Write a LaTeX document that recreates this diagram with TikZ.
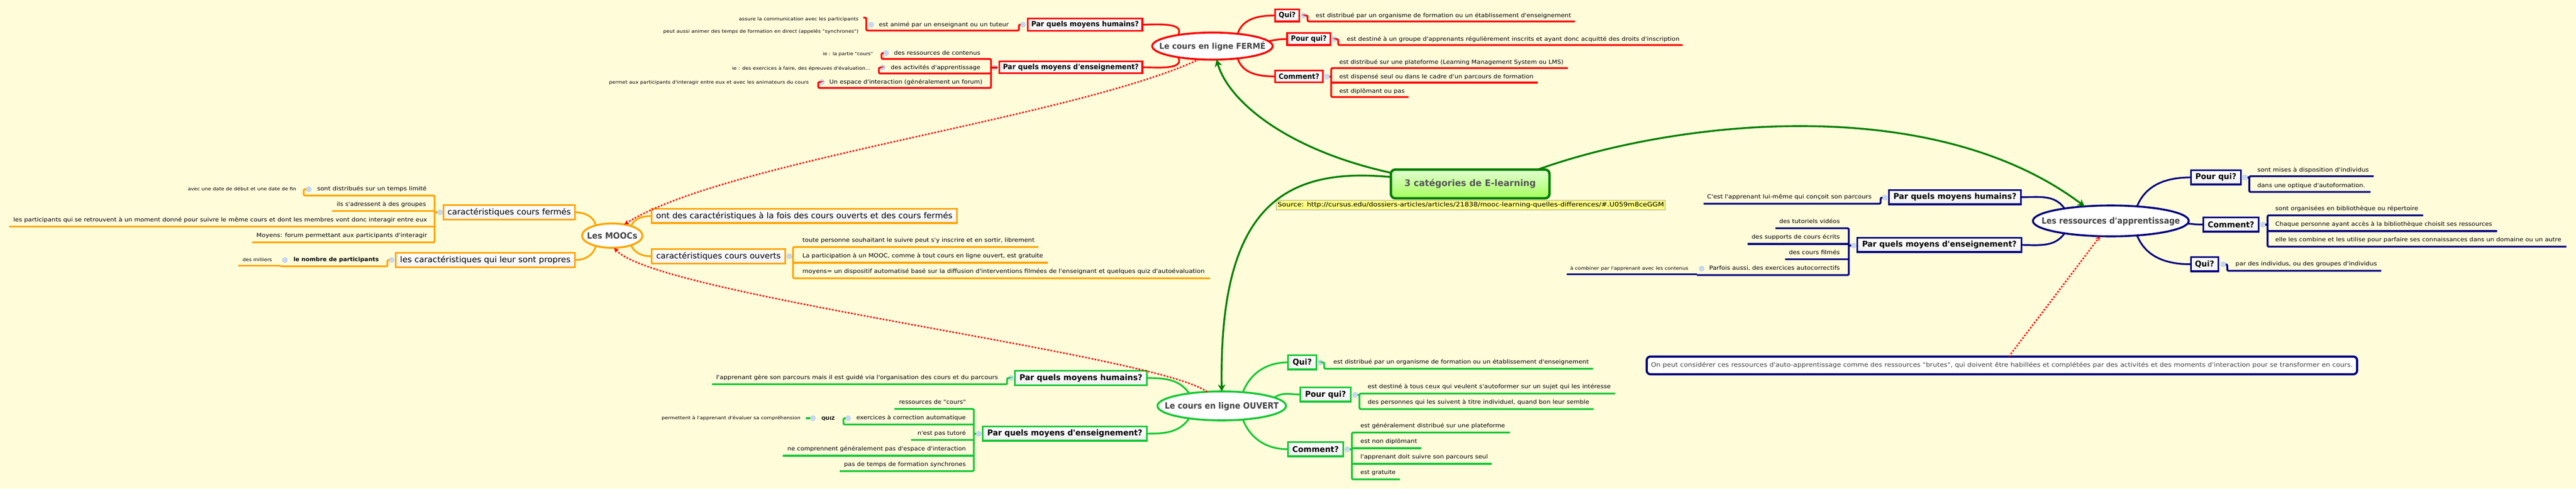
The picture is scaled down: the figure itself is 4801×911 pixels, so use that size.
\documentclass[tikz,border=0pt]{standalone}
\usepackage{fontspec}
\usepackage{graphicx}
\usetikzlibrary{shapes.geometric,arrows.meta,calc}
\newfontfamily\mf{DejaVu Sans}
\definecolor{bgc}{HTML}{FFFCDA}
\definecolor{cred}{HTML}{FF0000}
\definecolor{cgrn}{HTML}{12C832}
\definecolor{cnav}{HTML}{000080}
\definecolor{corg}{HTML}{FFA500}
\definecolor{cdg}{HTML}{008000}
\definecolor{cinkk}{HTML}{444444}
\definecolor{ctop}{HTML}{E4FFD4}
\definecolor{cbot}{HTML}{A4FF5C}
\definecolor{cctxt}{HTML}{555555}
\definecolor{yl}{HTML}{FFFF80}
\definecolor{cbl}{HTML}{9DB6DE}
\definecolor{cbm}{HTML}{6C8CC4}
\definecolor{cbf}{HTML}{CADCF8}
\tikzset{
  tnode/.style={anchor=base,inner sep=0pt,outer sep=0pt,text=black},
  ln/.style={draw=#1,line width=3.4pt,line cap=butt},
  sp/.style={draw=#1,line width=3.4pt,rounded corners=2.5pt},
  bran/.style={draw=#1,line width=3.2pt},
  boxn/.style={draw=#1,line width=3.4pt,top color=white,bottom color=gray!11,inner sep=0pt,outer sep=0pt,text=black},
  ell/.style={ellipse,draw=#1,line width=3.6pt,fill=white,inner sep=0pt,outer sep=0pt,text=cinkk},
  coll/.style={circle,draw=cbl,line width=.5pt,fill=cbf,minimum size=9.5pt,inner sep=0pt,outer sep=0pt,text=cbm},
  linkg/.style={draw=cdg,line width=3.4pt,-{Stealth[length=13pt,width=14pt,inset=4pt]}},
  linkr/.style={draw=cred,line width=2.8pt,dash pattern=on 3pt off 3pt,-{Stealth[length=9pt,width=9pt,inset=3pt]}},
}
\newcommand\fw[3]{\resizebox{#1pt}{\height}{\fontsize{#2}{#2}\selectfont #3}}
% ellipse text: takes no room, so that the ellipse keeps its given size
\newcommand\et[3]{\makebox[0pt][c]{\raisebox{-.36\dimexpr#2pt\relax}[0pt][0pt]{\fw{#1}{#2}{\bfseries #3}}}}
% text node: name x1 x2 y size text
\newcommand\tx[6]{\pgfmathsetmacro\tw{#3-#2}\pgfmathsetmacro\tcx{(#2+#3)/2}\pgfmathsetmacro\tby{#4+0.36*#5}%
  \node[tnode] (#1) at (\tcx,\tby) {\fw{\tw}{#5}{#6}};}
% leaf with underline coordinates: name a b ly t1 t2 ty text
\newcommand\lf[8]{\tx{#1}{#5}{#6}{#7}{10.5}{#8}\coordinate (#1-a) at (#2,#4);\coordinate (#1-b) at (#3,#4);}
% box: name colour x1 y1 x2 y2 size textwidth text
\newcommand\bx[9]{\pgfmathsetmacro\bcx{(#3+#5)/2}\pgfmathsetmacro\bcy{(#4+#6)/2}\pgfmathsetmacro\bw{#5-#3-3.4}\pgfmathsetmacro\bh{#6-#4-3.4}%
  \node[boxn=#2,minimum width=\bw pt,minimum height=\bh pt] (#1) at (\bcx,\bcy) {\fw{#8}{#7}{#9}};}
\newcommand\cl[3]{\node[coll] (#1) at (#2,#3) {\fontsize{7}{7}\selectfont -};}
\begin{document}
\begin{tikzpicture}[x=1pt,y=-1pt,every node/.append style={font=\mf}]
\useasboundingbox (0,0) rectangle (4801,911);
\fill[bgc] (0,0) rectangle (4801,911);

% ---------------- central
\node[draw=cdg,line width=4.5pt,rounded corners=8pt,top color=ctop,bottom color=cbot,minimum width=295.5pt,minimum height=53.5pt,inner sep=0pt,outer sep=0pt,text=cctxt] (ctr) at (2740,343) {\fw{245}{17}{\bfseries 3 catégories de E-learning}};
\node[draw=gray!70,line width=1pt,fill=yl,minimum width=725.5pt,minimum height=18pt,inner sep=0pt,outer sep=0pt,text=black] (src) at (2741.2,382.3) {\fw{720}{11.5}{Source: http://cursus.edu/dossiers-articles/articles/21838/mooc-learning-quelles-differences/\#.U059m8ceGGM}};

% ---------------- ellipses
\node[ell=cred,minimum width=224.5pt,minimum height=50.5pt] (fe) at (2259.6,86) {\et{198}{15}{Le cours en ligne FERMÉ}};
\node[ell=cgrn,minimum width=239.5pt,minimum height=54pt] (ou) at (2277,757) {\et{212.5}{16}{Le cours en ligne OUVERT}};
\node[ell=cnav,minimum width=290.5pt,minimum height=57.5pt] (re) at (3934,412) {\et{258}{16}{Les ressources d'apprentissage}};
\node[ell=corg,minimum width=112.5pt,minimum height=45.5pt] (mo) at (1141,439.5) {\et{94}{16}{Les MOOCs}};

% ---------------- note
\node[draw=cnav,line width=4pt,rounded corners=7pt,fill=white,minimum width=1324pt,minimum height=33pt,inner sep=0pt,outer sep=0pt,text=cinkk] (nt) at (3731,681.5) {\fw{1308}{11.5}{On peut considérer ces ressources d'auto-apprentissage comme des ressources "brutes", qui doivent être habillées et complétées par des activités et des moments d'interaction pour se transformer en cours.}};

% ---------------- FERME: left
\bx{rh}{cred}{1914}{33}{2130.5}{59}{13.5}{200.4}{\bfseries Par quels moyens humains?}
\bx{re2}{cred}{1861}{113}{2130.5}{138}{13.5}{253}{\bfseries Par quels moyens d'enseignement?}
\cl{crh}{1906.6}{46}
\lf{ani}{1614.5}{1899}{57}{1638}{1880}{46}{est animé par un enseignant ou un tuteur}
\cl{cani}{1623.5}{46}
\tx{as}{1377}{1600}{35}{8.5}{assure la communication avec les participants}
\tx{pe}{1236}{1600}{58.5}{8.5}{peut aussi animer des temps de formation en direct (appelés "synchrones")}
\coordinate (as-s) at (1609,33);
\draw[sp=cred] (as-s) -- (ani-a |- as-s) -- (ani-a) -- (ani-b) |- (crh.west);
\cl{cre2}{1854}{126}
\lf{rc}{1643}{1847}{110}{1666}{1827}{99}{des ressources de contenus}
\cl{crc}{1651.5}{99}
\tx{rci}{1533.5}{1627}{100}{8.5}{ie : la partie "cours"}
\lf{ac}{1638}{1847}{137}{1660}{1827}{126}{des activités d'apprentissage}
\cl{cac}{1645}{126}
\tx{aci}{1364.5}{1622}{127}{8.5}{ie : des exercices à faire, des épreuves d'évaluation...}
\lf{es}{1525}{1847}{164}{1545.7}{1831}{153}{Un espace d'interaction (généralement un forum)}
\cl{ces}{1531.6}{153}
\tx{esi}{1135}{1507.4}{153}{8.5}{permet aux participants d'interagir entre eux et avec les animateurs du cours}
\draw[sp=cred] (crc.west) -| (rc-a) -- (rc-b) -- (es-b) -- (es-a) |- (ces.west);
\draw[sp=cred] (cac.west) -| (ac-a) -- (ac-b);
\draw[ln=cred] (cre2.east) -- (cre2.east -| rc-b);
\draw[bran=cred] (rh.east) to[out=0,in=62] (fe.162);
\draw[bran=cred] (re2.east) to[out=0,in=-62] (fe.198);

% ---------------- FERME: right
\bx{fq}{cred}{2375}{16}{2423}{41.7}{13.5}{31.6}{\bfseries Qui?}
\bx{fp}{cred}{2397.4}{60}{2481}{85.7}{13.5}{66.6}{\bfseries Pour qui?}
\bx{fc}{cred}{2375}{130}{2467}{155}{13.5}{75.8}{\bfseries Comment?}
\cl{cfq}{2430}{29}
\lf{fq1}{2437}{2935}{40}{2452}{2928}{29}{est distribué par un organisme de formation ou un établissement d'enseignement}
\draw[sp=cred] (cfq.east) -| (fq1-a) -- (fq1-b);
\cl{cfp}{2487}{73}
\lf{fp1}{2494}{3136}{84}{2510}{3130}{73}{est destiné à un groupe d'apprenants régulièrement inscrits et ayant donc acquitté des droits d'inscription}
\draw[sp=cred] (cfp.east) -| (fp1-a) -- (fp1-b);
\cl{cfc}{2473}{143}
\lf{fc1}{2481}{2922}{127}{2496}{2914}{116}{est distribué sur une plateforme (Learning Management System ou LMS)}
\lf{fc2}{2481}{2866}{154}{2496}{2858}{143}{est dispensé seul ou dans le cadre d'un parcours de formation}
\lf{fc3}{2481}{2625}{181}{2496}{2618}{170}{est diplômant ou pas}
\draw[sp=cred] (fc1-b) -- (fc1-a) -- (fc3-a) -- (fc3-b);
\draw[ln=cred] (fc2-a) -- (fc2-b);
\draw[ln=cred] (cfc.east) -- (cfc.east -| fc1-a);
\draw[bran=cred] (fq.west) to[out=180,in=72] (fe.26);
\draw[bran=cred] (fp.west) to[out=180,in=12] (fe.5);
\draw[bran=cred] (fc.west) to[out=180,in=-72] (fe.-26);

% ---------------- OUVERT: left
\bx{gh}{cgrn}{1890}{690}{2139}{720}{15}{229}{\bfseries Par quels moyens humains?}
\bx{ge}{cgrn}{1830}{794}{2139}{823.7}{15}{289}{\bfseries Par quels moyens d'enseignement?}
\cl{cgh}{1884}{705}
\lf{gh1}{1327}{1877}{716.7}{1335}{1860}{703.7}{l'apprenant gère son parcours mais il est guidé via l'organisation des cours et du parcours}
\draw[sp=cgrn] (gh1-a) -- (gh1-b) |- (cgh.west);
\cl{cge}{1824}{809}
\lf{g1}{1667}{1815}{762.7}{1675.5}{1800}{749.7}{ressources de "cours"}
\lf{g2}{1572}{1815}{791.7}{1596}{1800}{779}{exercices à correction automatique}
\lf{g3}{1698}{1815}{820.7}{1710}{1800}{808}{n'est pas tutoré}
\lf{g4}{1459}{1815}{850}{1467.6}{1800}{837}{ne comprennent généralement pas d'espace d'interaction}
\lf{g5}{1565}{1815}{878.7}{1573}{1800}{866}{pas de temps de formation synchrones}
\draw[sp=cgrn] (g1-a) -- (g1-b) -- (g5-b) -- (g5-a);
\draw[ln=cgrn] (g3-a) -- (g3-b);
\draw[ln=cgrn] (g4-a) -- (g4-b);
\cl{cg2}{1580.5}{780}
\draw[sp=cgrn] (cg2.west) -| (g2-a) -- (g2-b);
\draw[ln=cgrn] (cge.west) -- (cge.west -| g1-b);
\tx{qz}{1531}{1556}{780}{8.5}{\bfseries QUIZ}
\cl{cqz}{1515}{780}
\tx{qzi}{1233}{1492}{779}{8.5}{permettent à l'apprenant d'évaluer sa compréhension}
\coordinate (qz-s) at (1502,780);
\draw[ln=cgrn] (qz-s) -- (cqz.west);
\draw[bran=cgrn] (gh.east) to[out=0,in=125] (ou.159);
\draw[bran=cgrn] (ge.east) to[out=0,in=-125] (ou.201);

% ---------------- OUVERT: right
\bx{oq}{cgrn}{2399}{661}{2455}{690.7}{15}{35.7}{\bfseries Qui?}
\bx{op}{cgrn}{2422}{721}{2519}{750.7}{15}{76.5}{\bfseries Pour qui?}
\bx{oc}{cgrn}{2399}{823}{2505}{852.7}{15}{86.7}{\bfseries Comment?}
\cl{coq}{2461}{676}
\lf{oq1}{2468}{2969}{687.7}{2485}{2961}{675}{est distribué par un organisme de formation ou un établissement d'enseignement}
\draw[sp=cgrn] (coq.east) -| (oq1-a) -- (oq1-b);
\cl{cop}{2525.4}{736.5}
\lf{op1}{2533.7}{3010}{734}{2549}{3002}{721}{est destiné à tous ceux qui veulent s'autoformer sur un sujet qui les intéresse}
\lf{op2}{2533.7}{2970}{763}{2549}{2962}{750}{des personnes qui les suivent à titre individuel, quand bon leur semble}
\draw[sp=cgrn] (op1-b) -- (op1-a) -- (op2-a) -- (op2-b);
\cl{coc}{2511}{838}
\lf{oc1}{2519.6}{2814}{806.7}{2535.6}{2805}{794}{est généralement distribué sur une plateforme}
\lf{oc2}{2519.6}{2648.5}{836}{2535.6}{2641}{823}{est non diplômant}
\lf{oc3}{2519.6}{2780}{865}{2535.6}{2773}{852}{l'apprenant doit suivre son parcours seul}
\lf{oc4}{2519.6}{2609}{894}{2535.6}{2601}{881}{est gratuite}
\draw[sp=cgrn] (oc1-b) -- (oc1-a) -- (oc4-a) -- (oc4-b);
\draw[ln=cgrn] (oc2-a) -- (oc2-b);
\draw[ln=cgrn] (oc3-a) -- (oc3-b);
\draw[ln=cgrn] (cop.east) -- (cop.east -| op1-a);
\draw[ln=cgrn] (coc.east) -- (coc.east -| oc1-a);
\draw[bran=cgrn] (oq.west) to[out=180,in=68] (ou.33);
\draw[bran=cgrn] (op.west) to[out=180,in=35] (ou.9);
\draw[bran=cgrn] (oc.west) to[out=180,in=-68] (ou.-33);

% ---------------- RESSOURCES: left
\bx{nh}{cnav}{3519}{353}{3768}{382.7}{15}{229.5}{\bfseries Par quels moyens humains?}
\bx{ne}{cnav}{3460}{442}{3769}{471.7}{15}{288}{\bfseries Par quels moyens d'enseignement?}
\cl{cnh}{3513}{368.7}
\lf{nh1}{3175}{3505}{380}{3181.6}{3488}{367}{C'est l'apprenant lui-même qui conçoit son parcours}
\draw[sp=cnav] (nh1-a) -- (nh1-b) |- (cnh.west);
\cl{cne}{3454.6}{458}
\lf{n1}{3309}{3445.7}{425.7}{3316}{3429}{413}{des tutoriels vidéos}
\lf{n2}{3257}{3445.7}{455}{3264.5}{3429}{442}{des supports de cours écrits}
\lf{n3}{3327}{3445.7}{483.7}{3334}{3429}{471}{des cours filmés}
\lf{n4}{3162.5}{3445.7}{513}{3185.5}{3429}{500}{Parfois aussi, des exercices autocorrectifs}
\draw[sp=cnav] (n1-a) -- (n1-b) -- (n4-b) -- (n4-a);
\draw[ln=cnav] (n2-a) -- (n2-b);
\draw[ln=cnav] (n3-a) -- (n3-b);
\draw[ln=cnav] (cne.west) -- (cne.west -| n1-b);
\cl{cn4}{3171.5}{501}
\tx{n4i}{2926.5}{3146.5}{500.7}{8.5}{à combiner par l'apprenant avec les contenus}
\coordinate (n4i-a) at (2920,511.7);
\draw[ln=cnav] (n4i-a) -- (n4i-a -| n4-a);
\draw[bran=cnav] (nh.east) to[out=0,in=125] (re.165);
\draw[bran=cnav] (ne.east) to[out=0,in=-125] (re.195);

% ---------------- RESSOURCES: right
\bx{rp}{cnav}{4081.5}{316}{4178}{345.7}{15}{76.6}{\bfseries Pour qui?}
\bx{rc2}{cnav}{4105}{404}{4211}{433.7}{15}{86.8}{\bfseries Comment?}
\bx{rq}{cnav}{4081.5}{478}{4136}{507.7}{15}{35.75}{\bfseries Qui?}
\cl{crp}{4184}{331}
\lf{rp1}{4192}{4423.7}{328.7}{4207}{4415}{317}{sont mises à disposition d'individus}
\lf{rp2}{4192}{4418}{358}{4207}{4408}{346}{dans une optique d'autoformation.}
\draw[sp=cnav] (rp1-b) -- (rp1-a) -- (rp2-a) -- (rp2-b);
\draw[ln=cnav] (crp.east) -- (crp.east -| rp1-a);
\cl{crc2}{4217.5}{419}
\lf{rc3}{4226}{4516}{401.7}{4240.5}{4507}{389}{sont organisées en bibliothèque ou répertoire}
\lf{rc4}{4226}{4654}{431}{4240.5}{4644.6}{418}{Chaque personne ayant accès à la bibliothèque choisit ses ressources}
\lf{rc5}{4226}{4783}{460}{4240.5}{4773.5}{447}{elle les combine et les utilise pour parfaire ses connaissances dans un domaine ou un autre}
\draw[sp=cnav] (rc3-b) -- (rc3-a) -- (rc5-a) -- (rc5-b);
\draw[ln=cnav] (rc4-a) -- (rc4-b);
\draw[ln=cnav] (crc2.east) -- (crc2.east -| rc3-a);
\cl{crq}{4143.5}{493}
\lf{rq1}{4151}{4438}{505}{4166.4}{4430}{492}{par des individus, ou des groupes d'individus}
\draw[sp=cnav] (crq.east) -| (rq1-a) -- (rq1-b);
\draw[bran=cnav] (rp.west) to[out=180,in=68] (re.29);
\draw[bran=cnav] (rc2.west) to[out=180,in=-5] (re.-2);
\draw[bran=cnav] (rq.west) to[out=180,in=-68] (re.-29);

% ---------------- MOOCs: left
\bx{mf}{corg}{825}{381}{1073}{411}{15}{230}{caractéristiques cours fermés}
\bx{mp}{corg}{736}{470}{1073}{500}{15}{317.6}{les caractéristiques qui leur sont propres}
\cl{cmf}{820}{396}
\lf{m1}{566}{810}{364.7}{591}{795}{352}{sont distribués sur un temps limité}
\cl{cm1}{575.5}{353}
\tx{m1i}{350}{552}{352.7}{8.5}{avec une date de début et une date de fin}
\lf{m2}{619}{810}{393.7}{627.5}{794}{381}{ils s'adressent à des groupes}
\lf{m3}{17}{810}{422.7}{25}{796}{410}{les participants qui se retrouvent à un moment donné pour suivre le même cours et dont les membres vont donc interagir entre eux}
\lf{m4}{470}{810}{452}{478}{796}{439}{Moyens: forum permettant aux participants d'interagir}
\draw[sp=corg] (cm1.west) -| (m1-a) -- (m1-b) -- (m4-b) -- (m4-a);
\draw[ln=corg] (m2-a) -- (m2-b);
\draw[ln=corg] (m3-a) -- (m3-b);
\draw[ln=corg] (cmf.west) -- (cmf.west -| m1-b);
\cl{cmp}{730}{485}
\lf{mp1}{523}{722}{496.7}{547}{706}{484}{\bfseries le nombre de participants}
\draw[sp=corg] (mp1-a) -- (mp1-b) |- (cmp.west);
\cl{cmp2}{531}{485}
\tx{mp2}{452}{507}{484.7}{8.5}{des milliers}
\coordinate (mp2-a) at (444,495.7);
\draw[ln=corg] (mp2-a) -- (mp2-a -| mp1-a);
\draw[bran=corg] (mf.east) to[out=0,in=105] (mo.148);
\draw[bran=corg] (mp.east) to[out=0,in=-105] (mo.212);

% ---------------- MOOCs: right
\bx{mb}{corg}{1213}{388}{1785}{417.7}{15}{552}{ont des caractéristiques à la fois des cours ouverts et des cours fermés}
\bx{mo2}{corg}{1213}{463}{1465}{493}{15}{232}{caractéristiques cours ouverts}
\cl{cmo}{1471}{478}
\lf{o1}{1478}{1935}{460.7}{1495.5}{1928}{448}{toute personne souhaitant le suivre peut s'y inscrire et en sortir, librement}
\lf{o2}{1478}{1953}{490}{1495.5}{1944}{477}{La participation à un MOOC, comme à tout cours en ligne ouvert, est gratuite}
\lf{o3}{1478}{2255}{519}{1495.5}{2245}{506}{moyens= un dispositif automatisé basé sur la diffusion d'interventions filmées de l'enseignant et quelques quiz d'autoévaluation}
\draw[sp=corg] (o1-b) -- (o1-a) -- (o3-a) -- (o3-b);
\draw[ln=corg] (o2-a) -- (o2-b);
\draw[ln=corg] (cmo.east) -- (cmo.east -| o1-a);
\draw[bran=corg] (mb.west) to[out=180,in=65] (mo.27);
\draw[bran=corg] (mo2.west) to[out=180,in=-65] (mo.-27);

% ---------------- links
\coordinate (ctl) at (2590,330);
\coordinate (ntl) at (3744,665);
\draw[linkg] (ctr.172) .. controls (2400,280) and (2290,190) .. (fe.287);
\draw[linkg] (ctl) .. controls (2380,310) and (2272,400) .. (ou.90);
\draw[linkg] (ctr.12.5) .. controls (3120,225) and (3600,170) .. (re.151);
\draw[linkr] (fe.225) .. controls (2000,220) and (1350,300) .. (mo.43);
\draw[linkr] (ou.136) .. controls (2150,660) and (1220,550) .. (mo.-81);
\draw[linkr] (ntl) -- (re.235);
\end{tikzpicture}
\end{document}
